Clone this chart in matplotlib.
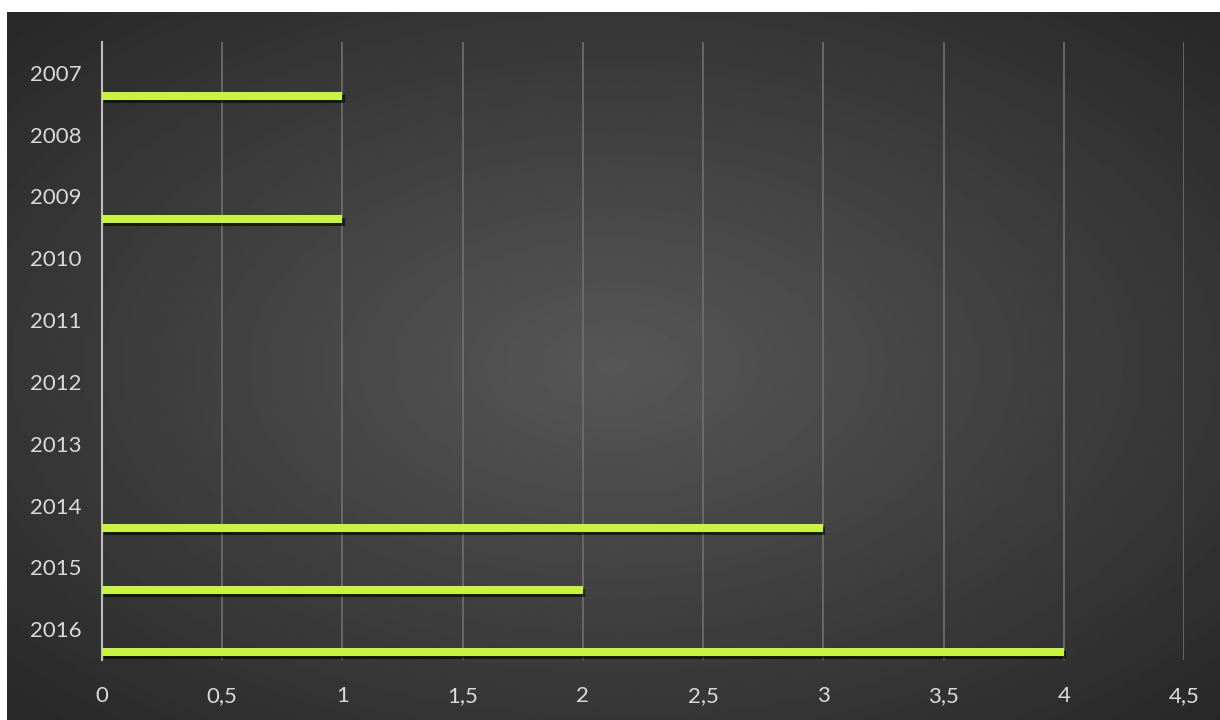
import numpy as np
import matplotlib.pyplot as plt
import matplotlib.patheffects as pe

years = ['2007', '2008', '2009', '2010', '2011', '2012', '2013', '2014', '2015', '2016']
values = [1, 0, 1, 0, 0, 0, 0, 3, 2, 4]
xticks = [0, 0.5, 1, 1.5, 2, 2.5, 3, 3.5, 4, 4.5]
xticklabels = ['0', '0,5', '1', '1,5', '2', '2,5', '3', '3,5', '4', '4,5']

plt.rcParams['font.family'] = ['Lato', 'DejaVu Sans']

fig = plt.figure(figsize=(12.2, 7.2), dpi=100, facecolor='white')

# radial gradient background (white strip on top and left)
bg = fig.add_axes([7 / 1220, 0, 1 - 7 / 1220, 1 - 12 / 720])
yy, xx = np.mgrid[-1:1:300j, -1:1:500j]
r = np.sqrt(xx ** 2 + yy ** 2)
shade = np.clip(0.34 - 0.13 * r, 0.12, 1)
bg.imshow(shade, cmap='gray', vmin=0, vmax=1, aspect='auto', extent=[0, 1, 0, 1])
bg.axis('off')

ax = fig.add_axes([102 / 1220, 60 / 720, 1082 / 1220, 618 / 720])
ax.patch.set_alpha(0)

pos = np.arange(len(years))
bars = ax.barh(pos + 0.37, values, height=0.13, color='#c8f53c', zorder=3)
for b in bars:
    b.set_path_effects([pe.SimplePatchShadow(offset=(1.5, -2), shadow_rgbFace='black', alpha=0.6),
                        pe.Normal()])

ax.set_xlim(0, 4.5)
ax.set_ylim(9.5, -0.5)
ax.set_yticks(pos)
ax.set_yticklabels(years)
ax.set_xticks(xticks)
ax.set_xticklabels(xticklabels)
ax.tick_params(length=0, colors='#dadada', labelsize=16)
ax.tick_params(axis='x', pad=19)
ax.tick_params(axis='y', pad=15)

ax.grid(axis='x', color='#707070', linewidth=1.2, zorder=0)
for s in ['top', 'right', 'bottom']:
    ax.spines[s].set_visible(False)
ax.spines['left'].set_color('#bdbdbd')
ax.spines['left'].set_linewidth(1.5)

plt.savefig('out.png', dpi=100, facecolor='white')
